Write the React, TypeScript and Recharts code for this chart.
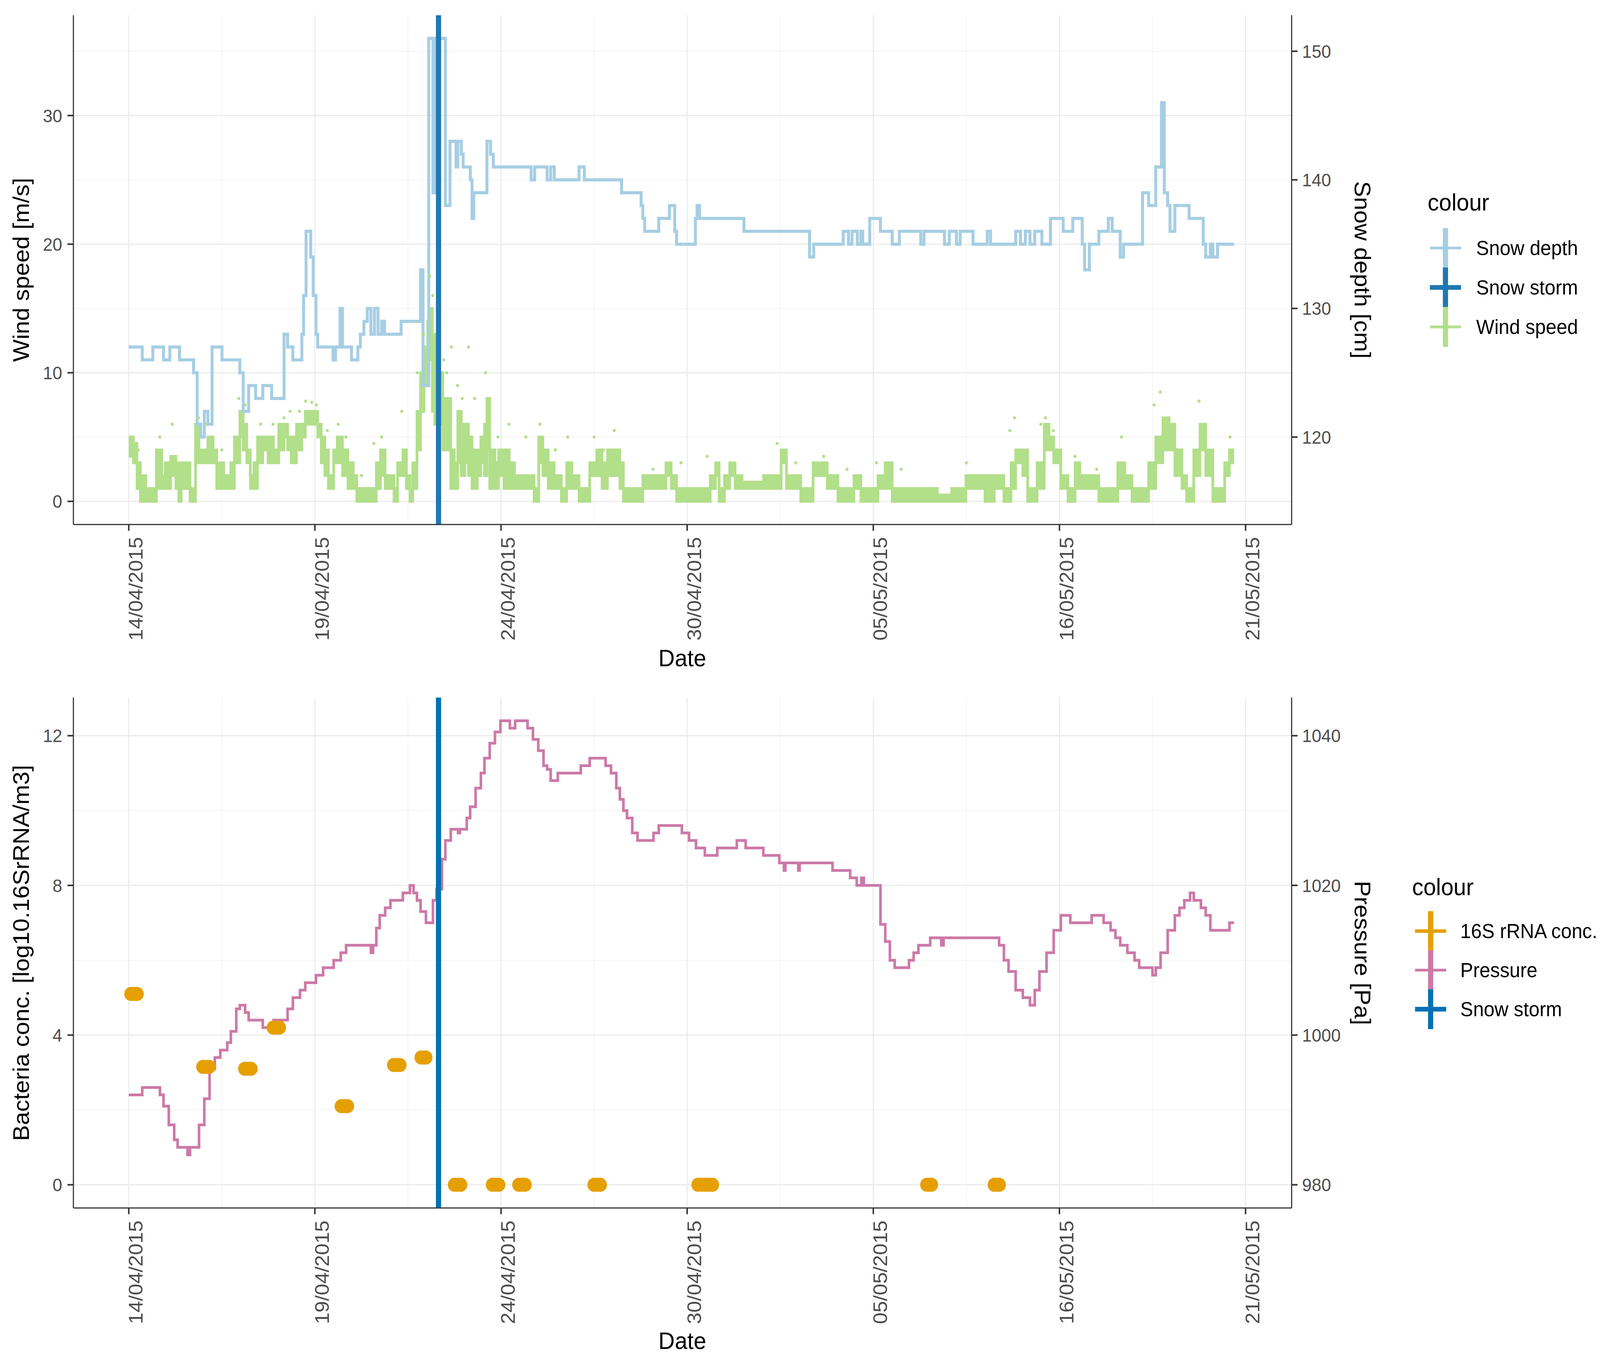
import React from "react";
import {
  ComposedChart,
  Line,
  Area,
  Scatter,
  XAxis,
  YAxis,
  CartesianGrid,
  ReferenceLine,
} from "recharts";

const FONT = '"Liberation Sans", Arial, Helvetica, sans-serif';
const PAGE_W = 4317;
const PAGE_H = 3472;

// x is an observation index; the date labels sit on evenly spaced breaks
const xTicks = [0, 120, 240, 360, 480, 600, 720];
const xMinor = [60, 180, 300, 420, 540, 660];
const dateLabels = ["14/04/2015", "19/04/2015", "24/04/2015", "30/04/2015", "05/05/2015", "16/05/2015", "21/05/2015"];
const X_DOMAIN: [number, number] = [-35.7, 749.7];
const STORM_X = 199.7;

// snow depth [cm], change points [x, value]
const snowDepth: [number, number][] = [
  [0, 127], [8.7, 126], [15.5, 127], [22.4, 126], [26.5, 127], [32.7, 126], [41.8, 125], [44.1, 121], [46.4, 120],
  [48.7, 122], [51, 121], [53.7, 127], [60.1, 126], [71.6, 125], [73.8, 122], [77.3, 124], [81.8, 123], [86.4, 124],
  [92.1, 123], [100.1, 128], [102.4, 127], [105.8, 126], [111.6, 128], [112.7, 131], [114.3, 136], [117.3, 134],
  [118.9, 131], [120.7, 128], [121.8, 127], [131.7, 126], [133.3, 127], [136.2, 130], [137.8, 127], [143.6, 126],
  [147.7, 127], [149.3, 128], [151.6, 129], [153.8, 130], [156.1, 128], [158.4, 130], [160.7, 128], [163, 129],
  [164.9, 128], [175.6, 129], [188.1, 133], [189.7, 124], [193.4, 151], [196.1, 139], [197.7, 151], [204.1, 138],
  [207.1, 143], [211, 141], [212.1, 143], [214.4, 142], [215.6, 141], [220.2, 140], [221.3, 137], [222.4, 139],
  [230.9, 143], [233.2, 142], [235, 141], [259.4, 140], [261.7, 141], [269.7, 140], [272, 141], [274.3, 140],
  [290.3, 141], [293.7, 140], [317.7, 139], [330.3, 138], [331.4, 137], [332.6, 136], [341.7, 137], [348.6, 138],
  [352, 136], [353.2, 135], [365.3, 137], [366.4, 138], [368, 137], [396.6, 136], [438.9, 134], [441.6, 135],
  [460.6, 136], [464, 135], [466.3, 136], [469.7, 135], [472, 136], [473.2, 135], [477.7, 137], [484.6, 136],
  [492.2, 135], [496.8, 136], [510.6, 135], [512.7, 136], [525.9, 135], [529, 136], [533.6, 135], [536, 136],
  [544.3, 135], [553.5, 136], [555.6, 135], [571.8, 136], [574.9, 135], [578, 136], [581, 135], [584.1, 136],
  [588.7, 135], [594.2, 137], [602.4, 136], [608.6, 137], [614.7, 135], [616.2, 133], [619.3, 135], [625.4, 136],
  [631.5, 137], [634, 136], [639.2, 134], [641.3, 135], [653.6, 139], [657.5, 138], [662.1, 141], [665.8, 146],
  [667.6, 139], [669.8, 138], [671.3, 136], [674.4, 138], [683.6, 137], [692.7, 135], [694.3, 134], [697.3, 135],
  [698.9, 134], [701.9, 135], [712.6, 135],
];

// wind speed [m/s], envelope of the dense trace [x, low, high]
const windBand: [number, number, number][] = [
  [0, 3.5, 5], [3, 3, 4.5], [5.3, 1, 3], [7.5, 0, 2], [11, 0, 1], [15.5, 0, 1], [17.8, 1, 4], [19.7, 1, 4],
  [21.3, 1, 2], [23.5, 1, 3], [27, 2, 3.5], [30.4, 1, 3], [32.2, 0, 1], [33.8, 1, 3], [37.3, 1, 3], [39.5, 0, 1],
  [41.8, 0, 1], [43, 3, 6], [45.3, 3, 4], [48.7, 3, 4], [51, 3, 5], [54.4, 3, 4], [56.7, 1, 3], [61.3, 1, 2],
  [65.8, 1, 3], [68.1, 3, 5], [71.6, 5, 7], [73.8, 4, 6], [76.1, 3, 4], [78.4, 1, 2], [80.7, 1, 3], [83, 3, 5],
  [86.4, 4, 5], [89.8, 3, 5], [93.3, 3, 4], [96.7, 4, 6], [100.1, 5, 6], [102.4, 4, 5], [104.7, 3, 5],
  [108.1, 4, 6], [111.6, 5, 6], [113.8, 6, 7], [118.4, 6, 7], [121.8, 5, 6], [124.1, 3, 5], [126.4, 2, 4],
  [128.7, 1, 2], [132.1, 3, 4], [134.4, 3, 5], [137.8, 2, 4], [141.3, 1, 3], [144.7, 1, 2], [147, 0, 1],
  [150.4, 0, 1], [156.1, 0, 1], [159.6, 1, 3], [162.3, 2, 4], [165.3, 1, 2], [168.7, 1, 2], [171, 0, 1],
  [173.3, 2, 3], [176.7, 2, 4], [179, 1, 2], [181.3, 0, 1], [183.1, 1, 3], [185.8, 4, 7], [188.1, 7, 10],
  [190.4, 9, 12], [192.7, 11, 14], [194.3, 12, 15], [195.7, 7, 13], [197.3, 6, 10], [202.5, 4, 8], [205.3, 4, 8],
  [207.6, 1, 4], [209.9, 1, 3], [212.1, 3, 7], [214.4, 2, 6], [216.7, 3, 6], [219, 2, 5], [221.3, 1, 4],
  [224.7, 2, 4], [227, 3, 5], [229.3, 2, 6], [230.9, 4, 8], [232.7, 1, 4], [236.1, 1, 3], [238.4, 2, 4],
  [241.9, 1, 4], [245.3, 1, 3], [248.7, 1, 2], [253.3, 1, 2], [257.9, 1, 2], [261.3, 0, 1], [264.3, 3, 5],
  [267, 2, 4], [270.4, 1, 3], [274.3, 1, 2], [278.9, 0, 1], [282.3, 1, 3], [285.7, 1, 2], [290.3, 0, 1],
  [297.2, 2, 3], [301.7, 2, 4], [305.1, 1, 3], [308.6, 2, 4], [313.2, 2, 4], [316.6, 1, 3], [318.9, 0, 1],
  [326.9, 0, 1], [331.4, 1, 2], [336, 1, 2], [340.6, 1, 2], [346.3, 2, 3], [349.7, 1, 2], [353.2, 0, 1],
  [361.2, 0, 1], [368, 0, 1], [374.9, 1, 2], [378.3, 2, 3], [380.6, 0, 1], [384, 1, 2], [387.4, 2, 3],
  [390.9, 1, 2], [395.4, 1, 1.5], [402.3, 1, 1.5], [409.2, 1, 2], [416, 1, 2], [420.6, 3, 4], [424, 1, 2],
  [427.5, 1, 2], [433.2, 0, 1], [437.8, 0, 1], [441.2, 2, 3], [446.9, 2, 3], [450.3, 1, 2], [457.2, 0, 1],
  [464, 0, 1], [467.5, 1, 2], [472, 0, 1], [477.7, 0, 1], [483, 1, 2], [487.6, 1, 3], [492.2, 0, 1], [503, 0, 1],
  [512.1, 0, 1], [521.3, 0, 0.5], [530.5, 0, 1], [535, 0, 1], [539.7, 1, 2], [545.8, 1, 2], [552, 0, 2],
  [558, 1, 2], [564.2, 0, 1], [568.8, 1, 3], [571.8, 3, 4], [576.4, 2, 4], [579.5, 0, 1], [585.6, 1, 3],
  [590.2, 4, 6], [593.3, 4, 5], [596.3, 3, 4], [600.9, 1, 2], [605.5, 0, 1], [610.1, 1, 3], [613.2, 1, 2],
  [622.3, 1, 2], [625.4, 0, 1], [631.5, 0, 1], [637.6, 1, 3], [642.2, 1, 2], [646.8, 0, 1], [652.9, 0, 1],
  [657.5, 1, 3], [662.1, 3, 5], [666.7, 4, 6.5], [670.7, 4, 6], [674.4, 2, 4], [679, 1, 2], [682, 0, 1],
  [686.6, 2, 4], [690.6, 4, 6], [694.3, 2, 4], [698.9, 0, 1], [703.5, 0, 1], [706.5, 2, 3], [709.6, 3, 4],
  [712.6, 3, 4],
];

// isolated wind readings above the main trace [x, m/s]
const windGusts: [number, number][] = [
  [2, 5], [6, 4], [20, 5], [28, 6], [45, 6.5], [50, 6], [60, 4], [71, 8], [75, 7.5], [85, 6], [93, 6], [100, 6.5],
  [104, 7], [110, 7], [114, 7.8], [118, 7.7], [121, 7.5], [128, 5.5], [135, 6], [140, 5], [150, 2], [158, 4.5],
  [163, 5], [176, 7], [186, 10], [190, 13], [194, 17.5], [196, 16], [203, 11], [205, 10], [208, 12], [212, 9],
  [215, 8], [219, 12], [223, 8], [230, 10], [238, 5], [245, 6], [256, 5], [265, 6], [275, 4], [283, 5], [300, 5],
  [306, 4], [313, 5.5], [338, 2.5], [356, 3], [373, 3.5], [390, 2.5], [418, 4.5], [430, 3], [448, 3.5],
  [463, 2.5], [482, 3], [498, 2.5], [540, 3], [568, 5.5], [571, 6.5], [588, 6], [591, 6.5], [596, 5.5],
  [610, 3.5], [624, 2.5], [640, 5], [661, 7.5], [665, 8.5], [676, 4], [690, 7.8], [696, 3], [710, 5],
];

// pressure [Pa], change points [x, value]
const pressure: [number, number][] = [
  [0, 992], [8.7, 993], [20.1, 992], [22.4, 990.5], [25.8, 988], [29.3, 986], [31.5, 985], [37.9, 984], [39.5, 985],
  [45.3, 988], [48.7, 991.5], [52.1, 995.5], [55.5, 997], [59, 998], [63.5, 999], [65.8, 1000.5], [69.3, 1003.5],
  [71.6, 1004], [75, 1003], [77.3, 1002], [86.4, 1001], [93.3, 1002], [102.4, 1003.5], [105.8, 1005],
  [110.4, 1006], [113.8, 1007], [120.7, 1008], [125.3, 1009], [132.1, 1010], [136.7, 1011], [140.1, 1012],
  [156.1, 1011], [157.5, 1012], [159.6, 1014.3], [161.8, 1016], [165.3, 1017], [168.7, 1018], [176.7, 1019],
  [181.3, 1020], [183.6, 1019], [185.8, 1018], [188.1, 1016.5], [191.6, 1015], [196.1, 1018], [198.4, 1019.5],
  [201.9, 1023.5], [204.1, 1026], [207.6, 1027.5], [212.3, 1027], [213.5, 1027.5], [217.9, 1029],
  [220.1, 1030.5], [223.6, 1033], [227, 1035], [229.3, 1037], [232.7, 1039], [236.1, 1040.5], [239.6, 1042],
  [245.7, 1041], [249.1, 1042], [257.1, 1041], [260.6, 1039.5], [264, 1038], [267.4, 1036], [269.7, 1035.5],
  [272, 1034], [276.6, 1035], [291.4, 1036], [297.2, 1037], [307.4, 1036], [310.9, 1035], [314.3, 1033],
  [316.6, 1031.5], [318.9, 1030], [321.2, 1029], [324.6, 1027], [328, 1026], [338.3, 1027], [341.7, 1028],
  [356.6, 1027], [361.2, 1026], [365.7, 1025], [371.4, 1024], [379.4, 1025], [392, 1026], [397.7, 1025],
  [409.1, 1024], [419.4, 1023], [422.4, 1022], [423.3, 1023], [431.6, 1022], [432.5, 1023], [453.7, 1022],
  [465.1, 1021], [469.3, 1020], [472.3, 1021], [473.9, 1020], [484.6, 1014.8], [487.7, 1012.5], [490.7, 1010],
  [493.8, 1009], [503, 1010], [506, 1011], [509.1, 1012], [516.7, 1013], [523.8, 1012], [525.3, 1013],
  [561.1, 1012], [564.2, 1010], [567.2, 1008.5], [571.8, 1006], [576.4, 1005], [581, 1004], [584.1, 1006],
  [587.1, 1008.5], [591.7, 1011], [596.3, 1014], [600.9, 1016], [607, 1015], [620.8, 1016], [628.5, 1015],
  [633, 1014], [636.1, 1013], [639.2, 1012], [643.8, 1011], [648.4, 1010], [651.4, 1009], [660, 1008],
  [662.1, 1009], [665.2, 1011], [669.8, 1014], [674.4, 1016], [677.4, 1017], [680.5, 1018], [684.2, 1019],
  [686.6, 1018], [691.2, 1017], [694.3, 1016], [697.3, 1014], [709.6, 1015], [712.6, 1015],
];

// 16S rRNA conc. [log10], one entry per sample [x, value]
const bacteria: [number, number][] = [
  [1.4, 5.1], [3.4, 5.1], [5.4, 5.1],
  [47.8, 3.15], [49.8, 3.15], [51.8, 3.15],
  [74.8, 3.1], [76.8, 3.1], [78.8, 3.1],
  [93.1, 4.2], [95.1, 4.2], [97.1, 4.2],
  [137, 2.1], [139, 2.1], [141, 2.1],
  [170.8, 3.2], [172.8, 3.2], [174.8, 3.2],
  [188.5, 3.4], [190, 3.4], [191.5, 3.4],
  [210, 0], [212, 0], [214, 0],
  [234.5, 0], [236.5, 0], [238.5, 0],
  [251.5, 0], [253.5, 0], [255.5, 0],
  [300, 0], [302, 0], [304, 0],
  [367, 0], [369.3, 0], [371.7, 0], [374, 0], [376.3, 0],
  [514.5, 0], [516, 0], [517.5, 0],
  [558, 0], [559.6, 0], [561.2, 0],
];

const C = {
  snow: "#a6cee3",
  stormTop: "#1f78b4",
  wind: "#b2df8a",
  bact: "#e69f00",
  press: "#cc79a7",
  stormBottom: "#0072b2",
  axis: "#333333",
  tickText: "#4d4d4d",
  gridMajor: "#ebebeb",
  gridMinor: "#f4f4f4",
};

const snowRows = snowDepth.map(([x, y]) => ({ x, y }));
const windRows = windBand.map(([x, lo, hi]) => ({ x, range: [lo, hi] }));
const gustRows = windGusts.map(([x, y]) => ({ x, y }));
const pressureRows = pressure.map(([x, y]) => ({ x, y }));
const bacteriaRows = bacteria.map(([x, y]) => ({ x, y }));

function DateTick(props: any) {
  const { x, y, payload } = props;
  const i = xTicks.indexOf(payload.value);
  return (
    <text
      x={x}
      y={y}
      dx={-4}
      dy="0.71em"
      textAnchor="end"
      transform={`rotate(-90, ${x}, ${y})`}
      fontSize={53}
      fill={C.tickText}
      fontFamily={FONT}
    >
      {dateLabels[i]}
    </text>
  );
}

const tickStyle = { fontSize: 47, fill: C.tickText, fontFamily: FONT };
const axisLine = { stroke: C.axis, strokeWidth: 3 };
const tickLine = { stroke: C.axis, strokeWidth: 4 };

function Title(props: { x: number; y: number; angle?: number; children: React.ReactNode }) {
  return (
    <div
      style={{
        position: "absolute",
        left: props.x,
        top: props.y,
        transform: `translate(-50%, -50%) rotate(${props.angle ?? 0}deg)`,
        whiteSpace: "nowrap",
        fontSize: 61,
        lineHeight: 1,
        fontFamily: FONT,
        color: "#000",
      }}
    >
      {props.children}
    </div>
  );
}

type Entry = { label: string; color: string; hw: number };

function KeyLegend(props: { left: number; top: number; keyX: number; keyYs: number[]; labelX: number; entries: Entry[] }) {
  const { left, top } = props;
  return (
    <svg
      width={460}
      height={420}
      style={{ position: "absolute", left, top, overflow: "visible" }}
      fontFamily={FONT}
    >
      <text x={0} y={16} fontSize={61} fill="#000">
        colour
      </text>
      {props.entries.map((e, i) => {
        const cy = props.keyYs[i] - top;
        const cx = props.keyX - left;
        return (
          <g key={e.label}>
            <line x1={cx} x2={cx} y1={cy - 51} y2={cy + 51} stroke={e.color} strokeWidth={14} />
            <line x1={cx - 42} x2={cx + 42} y1={cy} y2={cy} stroke={e.color} strokeWidth={e.hw} />
            <text x={props.labelX - left} y={cy} dy="0.35em" fontSize={52} fill="#000">
              {e.label}
            </text>
          </g>
        );
      })}
    </svg>
  );
}

function WindSnowPanel() {
  return (
    <ComposedChart width={PAGE_W} height={1736} margin={{ top: 39, right: 0, bottom: 0, left: 0 }}>
      <CartesianGrid
        xAxisId="x"
        yAxisId="left"
        verticalValues={xMinor}
        horizontalValues={[5, 15, 25, 35]}
        stroke={C.gridMinor}
        strokeWidth={2}
      />
      <CartesianGrid
        xAxisId="x"
        yAxisId="left"
        verticalValues={xTicks}
        horizontalValues={[0, 10, 20, 30]}
        stroke={C.gridMajor}
        strokeWidth={3}
      />
      <XAxis
        xAxisId="x"
        dataKey="x"
        type="number"
        domain={X_DOMAIN}
        allowDataOverflow
        ticks={xTicks}
        interval={0}
        height={393}
        tick={<DateTick />}
        tickSize={16}
        tickMargin={12}
        axisLine={axisLine}
        tickLine={tickLine}
      />
      <XAxis
        xAxisId="top"
        dataKey="x"
        type="number"
        orientation="top"
        domain={X_DOMAIN}
        allowDataOverflow
        height={0}
        tick={false}
        tickLine={false}
        axisLine={axisLine}
      />
      <YAxis
        yAxisId="left"
        dataKey="y"
        type="number"
        domain={[-1.8, 37.8]}
        allowDataOverflow
        ticks={[0, 10, 20, 30]}
        width={198}
        tick={tickStyle}
        tickSize={16}
        tickMargin={14}
        axisLine={axisLine}
        tickLine={tickLine}
      />
      <YAxis
        yAxisId="right"
        orientation="right"
        type="number"
        domain={[113.2, 152.8]}
        allowDataOverflow
        ticks={[120, 130, 140, 150]}
        width={832}
        tick={{ ...tickStyle, textAnchor: "start" }}
        tickSize={16}
        tickMargin={12}
        axisLine={axisLine}
        tickLine={tickLine}
      />
      <Area
        xAxisId="x"
        yAxisId="left"
        data={windRows}
        dataKey="range"
        type="stepAfter"
        stroke={C.wind}
        strokeWidth={7}
        fill={C.wind}
        fillOpacity={1}
        isAnimationActive={false}
      />
      <Scatter
        xAxisId="x"
        yAxisId="left"
        data={gustRows}
        dataKey="y"
        fill={C.wind}
        shape={(p: any) => <circle cx={p.cx} cy={p.cy} r={4} fill={C.wind} />}
        isAnimationActive={false}
      />
      <Line
        xAxisId="x"
        yAxisId="right"
        data={snowRows}
        dataKey="y"
        type="stepAfter"
        stroke={C.snow}
        strokeWidth={8}
        dot={false}
        isAnimationActive={false}
      />
      <ReferenceLine xAxisId="x" yAxisId="left" x={STORM_X} stroke={C.stormTop} strokeWidth={14} />
    </ComposedChart>
  );
}

function BacteriaPressurePanel() {
  return (
    <ComposedChart width={PAGE_W} height={1736} margin={{ top: 50, right: 0, bottom: 0, left: 0 }}>
      <CartesianGrid
        xAxisId="x"
        yAxisId="left"
        verticalValues={xMinor}
        horizontalValues={[2, 6, 10]}
        stroke={C.gridMinor}
        strokeWidth={2}
      />
      <CartesianGrid
        xAxisId="x"
        yAxisId="left"
        verticalValues={xTicks}
        horizontalValues={[0, 4, 8, 12]}
        stroke={C.gridMajor}
        strokeWidth={3}
      />
      <XAxis
        xAxisId="x"
        dataKey="x"
        type="number"
        domain={X_DOMAIN}
        allowDataOverflow
        ticks={xTicks}
        interval={0}
        height={379}
        tick={<DateTick />}
        tickSize={16}
        tickMargin={12}
        axisLine={axisLine}
        tickLine={tickLine}
      />
      <XAxis
        xAxisId="top"
        dataKey="x"
        type="number"
        orientation="top"
        domain={X_DOMAIN}
        allowDataOverflow
        height={0}
        tick={false}
        tickLine={false}
        axisLine={axisLine}
      />
      <YAxis
        yAxisId="left"
        dataKey="y"
        type="number"
        domain={[-0.62, 13.02]}
        allowDataOverflow
        ticks={[0, 4, 8, 12]}
        width={198}
        tick={tickStyle}
        tickSize={16}
        tickMargin={14}
        axisLine={axisLine}
        tickLine={tickLine}
      />
      <YAxis
        yAxisId="right"
        orientation="right"
        type="number"
        domain={[976.9, 1045.1]}
        allowDataOverflow
        ticks={[980, 1000, 1020, 1040]}
        width={832}
        tick={{ ...tickStyle, textAnchor: "start" }}
        tickSize={16}
        tickMargin={12}
        axisLine={axisLine}
        tickLine={tickLine}
      />
      <Line
        xAxisId="x"
        yAxisId="right"
        data={pressureRows}
        dataKey="y"
        type="stepAfter"
        stroke={C.press}
        strokeWidth={7}
        dot={false}
        isAnimationActive={false}
      />
      <Scatter
        xAxisId="x"
        yAxisId="left"
        data={bacteriaRows}
        dataKey="y"
        fill={C.bact}
        shape={(p: any) => <circle cx={p.cx} cy={p.cy} r={18} fill={C.bact} />}
        isAnimationActive={false}
      />
      <ReferenceLine xAxisId="x" yAxisId="left" x={STORM_X} stroke={C.stormBottom} strokeWidth={14} />
    </ComposedChart>
  );
}

export default function App() {
  // the window can be narrower than the figure; squeeze it horizontally to fit
  const viewW = typeof window !== "undefined" ? window.innerWidth : PAGE_W;
  const sx = Math.min(1, viewW / PAGE_W);
  return (
    <div style={{ width: PAGE_W * sx, height: PAGE_H, overflow: "hidden", background: "#fff" }}>
      <style>{`html, body { margin: 0; overflow: hidden; background: #fff; }`}</style>
      <div
        style={{
          position: "relative",
          width: PAGE_W,
          height: PAGE_H,
          transform: `scaleX(${sx})`,
          transformOrigin: "0 0",
        }}
      >
        <div style={{ position: "absolute", left: 0, top: 0 }}>
          <WindSnowPanel />
        </div>
        <div style={{ position: "absolute", left: 0, top: 1736 }}>
          <BacteriaPressurePanel />
        </div>

        <Title x={58} y={691} angle={-90}>Wind speed [m/s]</Title>
        <Title x={3676} y={691} angle={90}>Snow depth [cm]</Title>
        <Title x={1841} y={1685}>Date</Title>

        <Title x={58} y={2440} angle={-90}>Bacteria conc. [log10.16SrRNA/m3]</Title>
        <Title x={3676} y={2440} angle={90}>Pressure [Pa]</Title>
        <Title x={1841} y={3433}>Date</Title>

        <KeyLegend
          left={3852}
          top={523}
          keyX={3900}
          keyYs={[635, 736, 837]}
          labelX={3983}
          entries={[
            { label: "Snow depth", color: C.snow, hw: 7 },
            { label: "Snow storm", color: C.stormTop, hw: 12 },
            { label: "Wind speed", color: C.wind, hw: 7 },
          ]}
        />
        <KeyLegend
          left={3810}
          top={2276}
          keyX={3860}
          keyYs={[2384, 2484, 2584]}
          labelX={3940}
          entries={[
            { label: "16S rRNA conc.", color: C.bact, hw: 9 },
            { label: "Pressure", color: C.press, hw: 7 },
            { label: "Snow storm", color: C.stormBottom, hw: 12 },
          ]}
        />
      </div>
    </div>
  );
}
